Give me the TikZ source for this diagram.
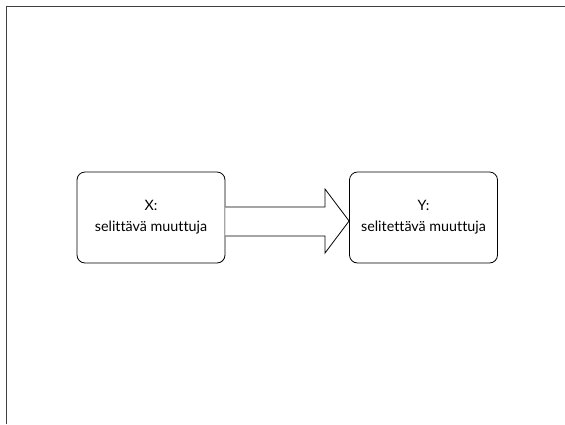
\documentclass[tikz,border=0pt]{standalone}
\usepackage{fontspec}
\setmainfont{Lato}[Ligatures={NoCommon}]
\begin{document}
\begin{tikzpicture}[x=1pt,y=-1pt,
  varbox/.style={draw=black, line width=0.8pt, rounded corners=8pt, minimum width=148pt, minimum height=91pt, align=center, font=\fontsize{14.3}{21}\selectfont, inner sep=0pt},
  bigarrow/.style={draw=black, line width=0.8pt, fill=white, line join=miter},
  frame/.style={draw=black!75, line width=1.5pt}]
\useasboundingbox (0,0) rectangle (565,424);
\fill[white] (0,0) rectangle (565,424);
\draw[frame] (6.5,424) -- (6.5,6.5) -- (565,6.5);
\node[varbox] (x) at (151,217.5) {X:\\selittävä muuttuja};
\node[varbox] (y) at (423.5,217.5) {Y:\\selitettävä muuttuja};
\draw[bigarrow] (x.east |- 0,207) -- (325,207) -- (325,189) -- (y.west |- 0,221) -- (325,253) -- (325,236) -- (x.east |- 0,236);
\end{tikzpicture}
\end{document}
